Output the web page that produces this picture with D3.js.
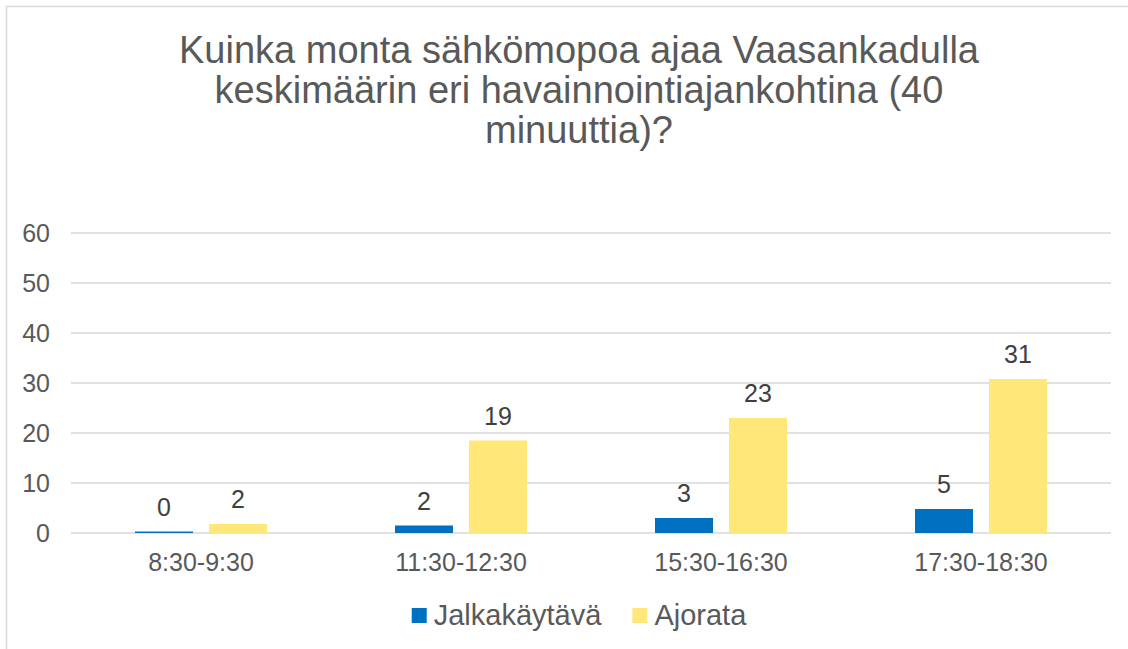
<!DOCTYPE html>
<html>
<head>
<meta charset="utf-8">
<title>Sähkömopot Vaasankadulla</title>
<script src="https://d3js.org/d3.v7.min.js"></script>
<style>
  body { margin: 0; background: #fff; }
  text { font-family: "Liberation Sans", Arial, sans-serif; }
</style>
</head>
<body>
<div id="chart"></div>
<script>
// data
var categories = ["8:30-9:30", "11:30-12:30", "15:30-16:30", "17:30-18:30"];
var seriesNames = ["Jalkakäytävä", "Ajorata"];
var jalkakaytava = [0.3, 1.5, 3.0, 4.8];
var ajorata = [1.8, 18.5, 23.0, 30.8];
var yTicks = [0, 10, 20, 30, 40, 50, 60];
var titleLines = ["Kuinka monta sähkömopoa ajaa Vaasankadulla",
                  "keskimäärin eri havainnointiajankohtina (40",
                  "minuuttia)?"];
var colors = ["#0070c0", "#ffe779"];

var W = 1128, H = 649;
var margin = {top: 233, left: 71, right: 17, bottom: 116};
var centerX = 579;

var svg = d3.select("#chart").append("svg")
    .attr("width", W).attr("height", H);

// chart border (cut by the edges of the picture)
svg.append("rect")
    .attr("x", 6.5).attr("y", 6.5)
    .attr("width", 1200).attr("height", 800)
    .attr("fill", "#fff").attr("stroke", "#d9d9d9").attr("stroke-width", 1.5);

// title
svg.append("g").selectAll("text")
    .data(titleLines)
    .enter().append("text")
    .attr("x", centerX)
    .attr("y", function(d, i) { return 63 + i * 40; })
    .attr("text-anchor", "middle")
    .attr("font-size", 38)
    .attr("fill", "#595959")
    .text(function(d) { return d; });

// scales
var x0 = d3.scaleBand()
    .domain(categories)
    .range([margin.left, W - margin.right]);

var x1 = d3.scaleBand()
    .domain(seriesNames)
    .range([64, 196])
    .paddingInner(16 / 74);

var y = d3.scaleLinear()
    .domain([0, 60])
    .range([H - margin.bottom, margin.top]);

// gridlines
svg.append("g").selectAll("line")
    .data(yTicks)
    .enter().append("line")
    .attr("x1", margin.left).attr("x2", W - margin.right)
    .attr("y1", function(d) { return y(d); })
    .attr("y2", function(d) { return y(d); })
    .attr("stroke", "#d9d9d9").attr("stroke-width", 1.5);

// y axis labels
var yAxis = svg.append("g")
    .attr("transform", "translate(" + (margin.left - 21) + ",0)")
    .call(d3.axisLeft(y).tickValues(yTicks).tickSize(0).tickPadding(0));
yAxis.select(".domain").remove();
yAxis.selectAll("text")
    .attr("font-size", 25)
    .attr("font-family", "Liberation Sans, Arial, sans-serif")
    .attr("fill", "#595959");

// x axis labels
var xAxis = svg.append("g")
    .attr("transform", "translate(0," + y(0) + ")")
    .call(d3.axisBottom(x0).tickSize(0).tickPadding(20));
xAxis.select(".domain").remove();
xAxis.selectAll("text")
    .attr("font-size", 25)
    .attr("font-family", "Liberation Sans, Arial, sans-serif")
    .attr("fill", "#595959");

// bars
var rows = categories.map(function(c, i) {
  return {cat: c, values: [
    {name: seriesNames[0], value: jalkakaytava[i]},
    {name: seriesNames[1], value: ajorata[i]}
  ]};
});

var groups = svg.append("g").selectAll("g")
    .data(rows)
    .enter().append("g")
    .attr("transform", function(d) { return "translate(" + x0(d.cat) + ",0)"; });

groups.selectAll("rect")
    .data(function(d) { return d.values; })
    .enter().append("rect")
    .attr("x", function(d) { return x1(d.name); })
    .attr("y", function(d) { return y(d.value); })
    .attr("width", x1.bandwidth())
    .attr("height", function(d) { return y(0) - y(d.value); })
    .attr("fill", function(d, i) { return colors[i]; });

groups.selectAll("text")
    .data(function(d) { return d.values; })
    .enter().append("text")
    .attr("x", function(d) { return x1(d.name) + x1.bandwidth() / 2; })
    .attr("y", function(d) { return y(d.value) - 16; })
    .attr("text-anchor", "middle")
    .attr("font-size", 25)
    .attr("fill", "#404040")
    .text(function(d) { return Math.round(d.value); });

// legend
var legend = svg.append("g");
var items = legend.selectAll("g")
    .data(seriesNames)
    .enter().append("g");
items.append("rect")
    .attr("width", 15).attr("height", 15)
    .attr("y", 608)
    .attr("fill", function(d, i) { return colors[i]; });
items.append("text")
    .attr("x", 22)
    .attr("y", 625)
    .attr("font-size", 29)
    .attr("fill", "#595959")
    .text(function(d) { return d; });

// lay out legend items centred
var offs = [], total = 0;
items.each(function(d, i) {
  var w = 22 + d3.select(this).select("text").node().getComputedTextLength();
  offs.push(total);
  total += w + (i < seriesNames.length - 1 ? 31 : 0);
});
items.attr("transform", function(d, i) {
  return "translate(" + (centerX - total / 2 + offs[i]) + ",0)";
});
</script>
</body>
</html>
